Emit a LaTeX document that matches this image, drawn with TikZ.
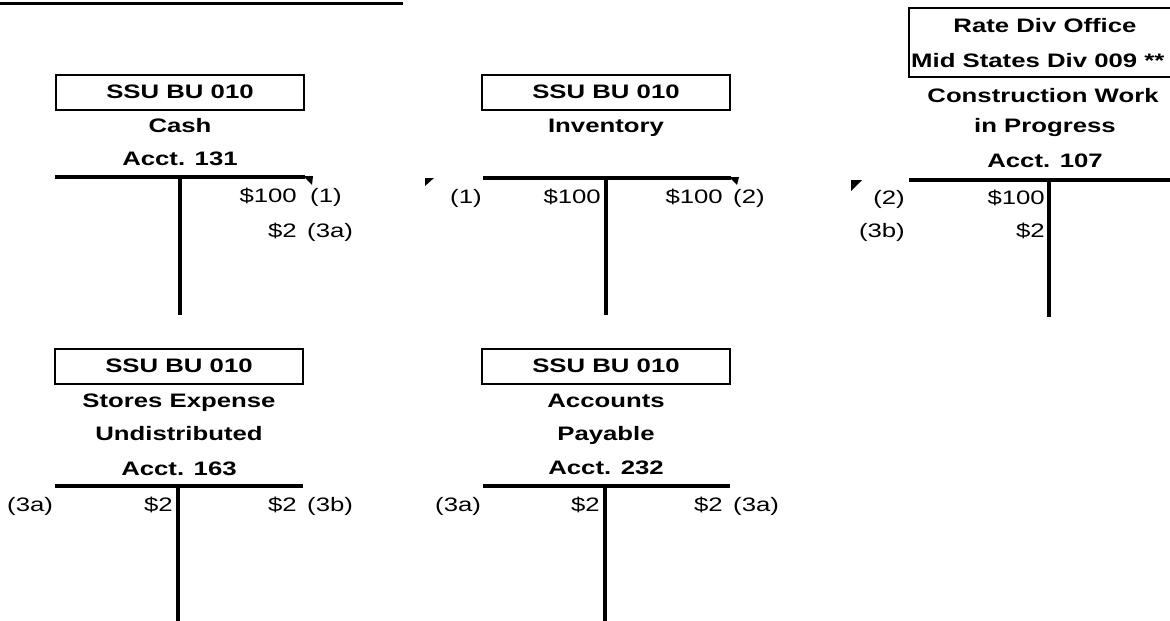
\documentclass[tikz,border=0pt]{standalone}
\usepackage{fontspec}
\setmainfont[FakeStretch=1.32]{Liberation Sans}
\usetikzlibrary{positioning}

\begin{document}
\begin{tikzpicture}[x=1pt, y=-1pt,
    every node/.style={inner sep=0pt, font=\fontsize{19.5}{23}\selectfont},
    unitbox/.style={draw, line width=2pt, minimum width=248pt, minimum height=35pt,
        font=\fontsize{19.5}{23}\selectfont\bfseries},
    title/.style={anchor=base, font=\fontsize{19.5}{23}\selectfont\bfseries},
    amt/.style={anchor=base east},
    ref/.style={anchor=base west},
    tline/.style={line width=3.5pt}]
    \clip (0,0) rectangle (1170,621);
    \draw[line width=3pt] (0,3) -- (403,3);

    % Cash
    \node[unitbox] (cashbu) at (180,92) {SSU BU 010};
    \node[title] (cashname) at (180,132) {Cash};
    \node[title] (cashacct) at (180,165) {Acct. 131};
    \coordinate (cashl) at (55,177);
    \coordinate (cashr) at (305,177);
    \coordinate (casht) at (180,177);
    \coordinate (cashb) at (180,315);
    \draw[tline] (cashl) -- (cashr);
    \draw[tline] (casht) -- (cashb);
    \node[amt] (cashcr1) at (297,202) {\$100};
    \node[ref] (cashref1) at (310,202) {(1)};
    \node[amt] (cashcr2) at (297,237) {\$2};
    \node[ref] (cashref2) at (307,237) {(3a)};
    \fill (303,176) -- (313,176) -- (312,185) -- cycle;

    % Inventory
    \node[unitbox] (invbu) at (606,92) {SSU BU 010};
    \node[title] (invname) at (606,132) {Inventory};
    \coordinate (invl) at (483,178);
    \coordinate (invr) at (731,178);
    \coordinate (invt) at (606,178);
    \coordinate (invb) at (606,315);
    \draw[tline] (invl) -- (invr);
    \draw[tline] (invt) -- (invb);
    \node[ref] (invref1) at (450,203) {(1)};
    \node[amt] (invdr1) at (601,203) {\$100};
    \node[amt] (invcr1) at (723,203) {\$100};
    \node[ref] (invref2) at (733,203) {(2)};
    \fill (425,178) -- (434,178) -- (425,186) -- cycle;
    \fill (729,177) -- (739,177) -- (737,185) -- cycle;

    % Construction Work in Progress
    \node[draw, line width=2pt, minimum width=276pt, minimum height=69pt] (cwipbu) at (1047,42.5) {};
    \node[title] (cwipdiv) at (1045,32) {Rate Div Office};
    \node[title, anchor=base west] (cwipmid) at (911,67) {Mid States Div 009 **};
    \node[title] (cwipname1) at (1043,102) {Construction Work};
    \node[title] (cwipname2) at (1045,132) {in Progress};
    \node[title] (cwipacct) at (1045,167) {Acct. 107};
    \coordinate (cwipl) at (909,180);
    \coordinate (cwipr) at (1175,180);
    \coordinate (cwipt) at (1049,180);
    \coordinate (cwipb) at (1049,317);
    \draw[tline] (cwipl) -- (cwipr);
    \draw[tline] (cwipt) -- (cwipb);
    \node[amt] (cwipref1) at (905,204) {(2)};
    \node[amt] (cwipdr1) at (1045,204) {\$100};
    \node[amt] (cwipref2) at (905,237) {(3b)};
    \node[amt] (cwipdr2) at (1045,237) {\$2};
    \fill (851,180) -- (862,180) -- (851,191) -- cycle;

    % Stores Expense Undistributed
    \node[unitbox] (storebu) at (179,366) {SSU BU 010};
    \node[title] (storename1) at (179,407) {Stores Expense};
    \node[title] (storename2) at (179,440) {Undistributed};
    \node[title] (storeacct) at (179,475) {Acct. 163};
    \coordinate (storel) at (55,486);
    \coordinate (storer) at (303,486);
    \coordinate (storet) at (178,486);
    \coordinate (storeb) at (178,625);
    \draw[tline] (storel) -- (storer);
    \draw[tline] (storet) -- (storeb);
    \node[ref] (storeref1) at (7,511) {(3a)};
    \node[amt] (storedr1) at (173,511) {\$2};
    \node[amt] (storecr1) at (297,511) {\$2};
    \node[ref] (storeref2) at (307,511) {(3b)};

    % Accounts Payable
    \node[unitbox] (apbu) at (606,366) {SSU BU 010};
    \node[title] (apname1) at (606,407) {Accounts};
    \node[title] (apname2) at (606,440) {Payable};
    \node[title] (apacct) at (606,474) {Acct. 232};
    \coordinate (apl) at (483,486);
    \coordinate (apr) at (730,486);
    \coordinate (apt) at (605,486);
    \coordinate (apb) at (605,625);
    \draw[tline] (apl) -- (apr);
    \draw[tline] (apt) -- (apb);
    \node[ref] (apref1) at (435,511) {(3a)};
    \node[amt] (apdr1) at (600,511) {\$2};
    \node[amt] (apcr1) at (723,511) {\$2};
    \node[ref] (apref2) at (733,511) {(3a)};
\end{tikzpicture}
\end{document}
